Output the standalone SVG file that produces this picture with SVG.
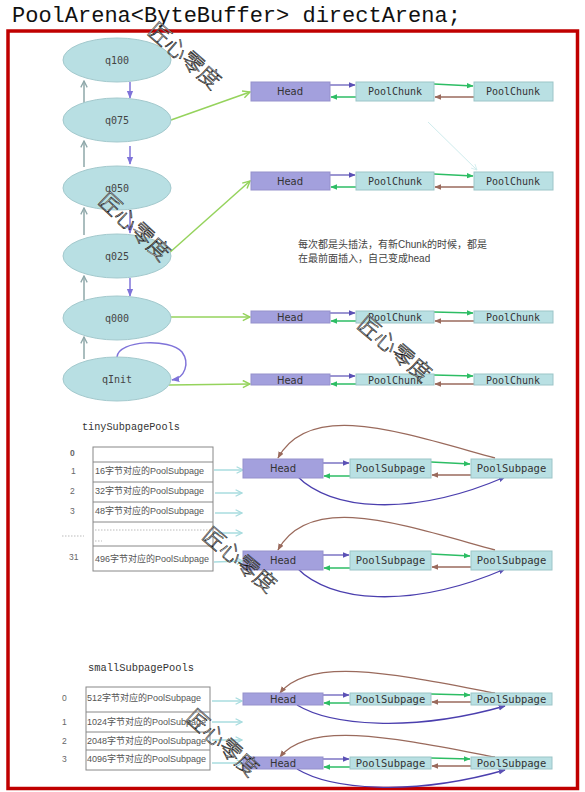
<svg xmlns="http://www.w3.org/2000/svg" width="585" height="792" viewBox="0 0 585 792">
<style>
.title{font-family:"Liberation Mono","DejaVu Sans Mono",monospace;font-size:22px;fill:#111}
.ell{fill:#b8dfe3;stroke:#a3c9cd;stroke-width:1}
.ql{font-family:"DejaVu Sans Mono","Liberation Mono",monospace;font-size:10px;fill:#444;text-anchor:middle}
.head{fill:#a3a0dd;stroke:#9591cc;stroke-width:1}
.chunk{fill:#b9e0e3;stroke:#9cc5c8;stroke-width:1}
.hl{font-family:"DejaVu Sans","Liberation Sans",sans-serif;font-size:10px;fill:#333;text-anchor:middle}
.cl{font-family:"DejaVu Sans Mono","Liberation Mono",monospace;font-size:10px;fill:#333;text-anchor:middle}
.sl{font-family:"DejaVu Sans Mono","Liberation Mono",monospace;font-size:10.5px;fill:#333;text-anchor:middle}
.lbl{font-family:"Liberation Mono","DejaVu Sans Mono",monospace;fill:#333}
.note{font-family:"Liberation Sans","Noto Sans CJK SC",sans-serif;font-size:10px;fill:#444}
.cell{font-family:"Liberation Sans","Noto Sans CJK SC",sans-serif;font-size:9px;fill:#555}
.idx{font-family:"Liberation Sans",sans-serif;font-size:8.5px;fill:#666}
.tbl{fill:#fff;stroke:#888;stroke-width:1}
.wm{font-family:"Noto Sans CJK SC",sans-serif;font-size:22px;font-weight:300;fill:#fff;stroke:#000;stroke-width:0.55;text-anchor:middle;dominant-baseline:central}
.up{stroke:#8ea7a9;stroke-width:1.5;fill:none;marker-end:url(#mGray)}
.dn{stroke:#7f73d9;stroke-width:1.5;fill:none;marker-end:url(#mPur)}
.gl{stroke:#95d35c;stroke-width:1.5;fill:none;marker-end:url(#mLg)}
.ind{stroke:#5b51b5;stroke-width:1.2;fill:none;marker-end:url(#mInd)}
.grn{stroke:#2dbd64;stroke-width:1.5;fill:none;marker-end:url(#mGrn)}
.brn{stroke:#9a6a5c;stroke-width:1.5;fill:none;marker-end:url(#mBrn)}
.cv{stroke:#4b3fae;stroke-width:1.3;fill:none;marker-end:url(#mInd)}
.cvb{stroke:#9a6a5c;stroke-width:1.3;fill:none;marker-end:url(#mBrn)}
.cy{stroke:#a8dcdf;stroke-width:1.5;fill:none;marker-end:url(#mCy)}
</style>
<defs>
<marker id="mGray" viewBox="0 0 10 10" refX="9" refY="5" markerWidth="8" markerHeight="8" markerUnits="userSpaceOnUse" orient="auto"><path d="M1,1 L9,5 L1,9" fill="none" stroke="#8ea7a9" stroke-width="1.6"/></marker>
<marker id="mPur" viewBox="0 0 10 10" refX="9" refY="5" markerWidth="8" markerHeight="8" markerUnits="userSpaceOnUse" orient="auto"><path d="M0,1 L10,5 L0,9 Z" fill="#7f73d9"/></marker>
<marker id="mLg" viewBox="0 0 10 10" refX="9" refY="5" markerWidth="9" markerHeight="9" markerUnits="userSpaceOnUse" orient="auto"><path d="M1,1 L9,5 L1,9" fill="none" stroke="#95d35c" stroke-width="1.6"/></marker>
<marker id="mInd" viewBox="0 0 10 10" refX="9" refY="5" markerWidth="7" markerHeight="7" markerUnits="userSpaceOnUse" orient="auto"><path d="M0,1 L10,5 L0,9 Z" fill="#5b51b5"/></marker>
<marker id="mGrn" viewBox="0 0 10 10" refX="9" refY="5" markerWidth="7" markerHeight="7" markerUnits="userSpaceOnUse" orient="auto"><path d="M0,1 L10,5 L0,9 Z" fill="#2dbd64"/></marker>
<marker id="mBrn" viewBox="0 0 10 10" refX="9" refY="5" markerWidth="7" markerHeight="7" markerUnits="userSpaceOnUse" orient="auto"><path d="M0,1 L10,5 L0,9 Z" fill="#9a6a5c"/></marker>
<marker id="mCy" viewBox="0 0 10 10" refX="9" refY="5" markerWidth="8" markerHeight="8" markerUnits="userSpaceOnUse" orient="auto"><path d="M1,1 L9,5 L1,9" fill="none" stroke="#a8dcdf" stroke-width="1.6"/></marker>
<marker id="mFaint" viewBox="0 0 10 10" refX="9" refY="5" markerWidth="7" markerHeight="7" markerUnits="userSpaceOnUse" orient="auto"><path d="M1,1 L9,5 L1,9" fill="none" stroke="#cfeced" stroke-width="1.2"/></marker>
</defs>
<rect width="585" height="792" fill="#fff"/>
<text class="title" x="12" y="22">PoolArena&lt;ByteBuffer&gt; directArena;</text>
<rect x="8" y="31" width="569.5" height="757.5" fill="none" stroke="#c00000" stroke-width="3.5"/>

<g id="connectors">
<line class="up" x1="84" y1="103" x2="84" y2="81"/>
<line class="up" x1="84" y1="167" x2="84" y2="141"/>
<line class="up" x1="84" y1="235" x2="84" y2="208"/>
<line class="up" x1="84" y1="300" x2="84" y2="276"/>
<line class="up" x1="84" y1="359" x2="84" y2="337"/>
<line class="dn" x1="130" y1="82" x2="130" y2="98"/>
<line class="dn" x1="130" y1="146" x2="130" y2="164"/>
<line class="dn" x1="130" y1="210" x2="130" y2="233"/>
<line class="dn" x1="130" y1="278" x2="130" y2="296"/>
<path class="dn" d="M117,357 C118,340 170,338 182,352 C190,363 185,378 172,380"/>
<line class="gl" x1="171" y1="120" x2="250" y2="92"/>
<line class="gl" x1="168" y1="254" x2="250" y2="181"/>
<line class="gl" x1="170" y1="317" x2="250" y2="317"/>
<line class="gl" x1="169" y1="385" x2="250" y2="384"/>
<line x1="428" y1="122" x2="477" y2="170" stroke="#cfeced" stroke-width="1" marker-end="url(#mFaint)"/>
<line class="ind" x1="330" y1="85" x2="355" y2="85"/>
<line class="grn" x1="356" y1="97" x2="331" y2="97"/>
<line class="grn" x1="434" y1="84" x2="473" y2="86"/>
<line class="brn" x1="474" y1="97" x2="435" y2="97"/>
<line class="ind" x1="330" y1="175" x2="355" y2="175"/>
<line class="grn" x1="356" y1="187" x2="331" y2="187"/>
<line class="grn" x1="434" y1="174" x2="473" y2="176"/>
<line class="brn" x1="474" y1="187" x2="435" y2="187"/>
<line class="ind" x1="330" y1="313" x2="355" y2="313"/>
<line class="grn" x1="356" y1="321" x2="331" y2="321"/>
<line class="grn" x1="434" y1="312" x2="473" y2="313"/>
<line class="brn" x1="474" y1="321" x2="435" y2="321"/>
<line class="ind" x1="330" y1="376" x2="355" y2="376"/>
<line class="grn" x1="356" y1="384" x2="331" y2="384"/>
<line class="grn" x1="434" y1="375" x2="473" y2="376"/>
<line class="brn" x1="474" y1="384" x2="435" y2="384"/>
<line class="cy" x1="214" y1="470" x2="243" y2="470"/>
<line class="cy" x1="215" y1="493" x2="242" y2="493"/>
<line class="cy" x1="215" y1="513" x2="242" y2="513"/>
<line class="cy" x1="215" y1="533" x2="242" y2="533"/>
<line class="cy" x1="214" y1="562" x2="243" y2="561"/>
<line class="ind" x1="323" y1="463" x2="349" y2="463"/>
<line class="grn" x1="350" y1="476" x2="324" y2="476"/>
<line class="grn" x1="431" y1="462" x2="470" y2="464"/>
<line class="brn" x1="471" y1="475" x2="432" y2="475"/>
<path class="cvb" d="M495,458 C400,432 310,400 278,458"/>
<path class="cv" d="M297,476 C330,510 410,518 505,477"/>
<line class="ind" x1="323" y1="555" x2="349" y2="555"/>
<line class="grn" x1="350" y1="568" x2="324" y2="568"/>
<line class="grn" x1="431" y1="554" x2="470" y2="556"/>
<line class="brn" x1="471" y1="567" x2="432" y2="567"/>
<path class="cvb" d="M495,550 C400,524 310,492 278,550"/>
<path class="cv" d="M297,568 C330,602 410,610 505,569"/>
<line class="cy" x1="212" y1="701" x2="242" y2="701"/>
<line class="cy" x1="212" y1="722" x2="242" y2="722"/>
<line class="cy" x1="212" y1="740" x2="242" y2="740"/>
<line class="cy" x1="212" y1="763" x2="243" y2="763"/>
<line class="ind" x1="323" y1="695" x2="349" y2="695"/>
<line class="grn" x1="350" y1="703" x2="324" y2="703"/>
<line class="grn" x1="431" y1="694" x2="470" y2="695"/>
<line class="brn" x1="471" y1="702" x2="432" y2="702"/>
<path class="cvb" d="M495,693 C400,675 310,655 280,693"/>
<path class="cv" d="M297,705 C330,725 410,733 505,706"/>
<line class="ind" x1="323" y1="759" x2="349" y2="759"/>
<line class="grn" x1="350" y1="767" x2="324" y2="767"/>
<line class="grn" x1="431" y1="758" x2="470" y2="759"/>
<line class="brn" x1="471" y1="766" x2="432" y2="766"/>
<path class="cvb" d="M495,757 C400,739 310,719 280,757"/>
<path class="cv" d="M297,769 C330,789 410,797 505,770"/>
</g>

<g id="q100"><ellipse class="ell" cx="117" cy="60" rx="54" ry="22"/><text class="ql" x="117" y="64">q100</text></g>
<g id="q075"><ellipse class="ell" cx="117" cy="120" rx="54" ry="22"/><text class="ql" x="117" y="124">q075</text></g>
<g id="q050"><ellipse class="ell" cx="117" cy="188" rx="54" ry="22"/><text class="ql" x="117" y="192">q050</text></g>
<g id="q025"><ellipse class="ell" cx="117" cy="256" rx="54" ry="22"/><text class="ql" x="117" y="260">q025</text></g>
<g id="q000"><ellipse class="ell" cx="117" cy="318" rx="54" ry="22"/><text class="ql" x="117" y="322">q000</text></g>
<g id="qInit"><ellipse class="ell" cx="117" cy="379" rx="54" ry="22"/><text class="ql" x="117" y="383">qInit</text></g>

<g id="chunkRowA">
<rect class="head" x="251" y="82" width="79" height="19"/><text class="hl" x="290" y="95">Head</text>
<rect class="chunk" x="356" y="82" width="78" height="19"/><text class="cl" x="395" y="95">PoolChunk</text>
<rect class="chunk" x="474" y="82" width="79" height="19"/><text class="cl" x="513" y="95">PoolChunk</text>
</g>
<g id="chunkRowB">
<rect class="head" x="251" y="172" width="79" height="18"/><text class="hl" x="290" y="185">Head</text>
<rect class="chunk" x="356" y="172" width="78" height="18"/><text class="cl" x="395" y="185">PoolChunk</text>
<rect class="chunk" x="474" y="172" width="79" height="18"/><text class="cl" x="513" y="185">PoolChunk</text>
</g>
<g id="chunkRowC">
<rect class="head" x="251" y="311" width="79" height="12"/><text class="hl" x="290" y="321">Head</text>
<rect class="chunk" x="356" y="311" width="78" height="12"/><text class="cl" x="395" y="321">PoolChunk</text>
<rect class="chunk" x="474" y="311" width="79" height="12"/><text class="cl" x="513" y="321">PoolChunk</text>
</g>
<g id="chunkRowD">
<rect class="head" x="251" y="374" width="79" height="11"/><text class="hl" x="290" y="383.5">Head</text>
<rect class="chunk" x="356" y="374" width="78" height="11"/><text class="cl" x="395" y="383.5">PoolChunk</text>
<rect class="chunk" x="474" y="374" width="79" height="11"/><text class="cl" x="513" y="383.5">PoolChunk</text>
</g>

<g id="note">
<text class="note" x="298" y="248">每次都是头插法，有新Chunk的时候，都是</text>
<text class="note" x="298" y="262">在最前面插入，自己变成head</text>
</g>

<g id="tinyTable">
<text class="lbl" x="82" y="430" font-size="10.2">tinySubpagePools</text>
<rect class="tbl" x="93" y="447" width="120" height="124"/>
<line x1="93" y1="462" x2="213" y2="462" stroke="#888"/>
<line x1="93" y1="482" x2="213" y2="482" stroke="#888"/>
<line x1="93" y1="502" x2="213" y2="502" stroke="#888"/>
<line x1="93" y1="522" x2="213" y2="522" stroke="#888"/>
<line x1="93" y1="546" x2="213" y2="546" stroke="#888"/>
<line x1="95" y1="530" x2="210" y2="530" stroke="#aaa" stroke-width="0.8" stroke-dasharray="1.5,1.5"/>
<line x1="95" y1="541" x2="102" y2="541" stroke="#aaa" stroke-width="0.8" stroke-dasharray="1.5,1.5"/>
<text class="idx" x="70" y="456" font-weight="bold" fill="#444">0</text>
<text class="idx" x="71" y="474">1</text>
<text class="idx" x="70" y="494">2</text>
<text class="idx" x="70" y="514">3</text>
<line x1="62" y1="536" x2="84" y2="536" stroke="#aaa" stroke-width="0.8" stroke-dasharray="1.5,1.5"/>
<text class="idx" x="69" y="560">31</text>
<text class="cell" x="95" y="474">16字节对应的PoolSubpage</text>
<text class="cell" x="95" y="494">32字节对应的PoolSubpage</text>
<text class="cell" x="95" y="514">48字节对应的PoolSubpage</text>
<text class="cell" x="95" y="562">496字节对应的PoolSubpage</text>
</g>

<g id="tinyRow1">
<rect class="head" x="243" y="459" width="80" height="19"/><text class="hl" x="283" y="472">Head</text>
<rect class="chunk" x="350" y="459" width="81" height="19"/><text class="sl" x="390.5" y="472">PoolSubpage</text>
<rect class="chunk" x="471" y="459" width="81" height="19"/><text class="sl" x="511.5" y="472">PoolSubpage</text>
</g>
<g id="tinyRow2">
<rect class="head" x="243" y="551" width="80" height="19"/><text class="hl" x="283" y="564">Head</text>
<rect class="chunk" x="350" y="551" width="81" height="19"/><text class="sl" x="390.5" y="564">PoolSubpage</text>
<rect class="chunk" x="471" y="551" width="81" height="19"/><text class="sl" x="511.5" y="564">PoolSubpage</text>
</g>

<g id="smallTable">
<text class="lbl" x="88" y="671" font-size="10.4">smallSubpagePools</text>
<rect class="tbl" x="86" y="687" width="124" height="83"/>
<line x1="86" y1="712" x2="210" y2="712" stroke="#888"/>
<line x1="86" y1="732" x2="210" y2="732" stroke="#888"/>
<line x1="86" y1="750" x2="210" y2="750" stroke="#888"/>
<text class="idx" x="62" y="701">0</text>
<text class="idx" x="62" y="725">1</text>
<text class="idx" x="62" y="744">2</text>
<text class="idx" x="62" y="762">3</text>
<text class="cell" x="87" y="701">512字节对应的PoolSubpage</text>
<text class="cell" x="87" y="725">1024字节对应的PoolSubpage</text>
<text class="cell" x="87" y="744">2048字节对应的PoolSubpage</text>
<text class="cell" x="87" y="762">4096字节对应的PoolSubpage</text>
</g>

<g id="smallRow1">
<rect class="head" x="243" y="693" width="80" height="12"/><text class="hl" x="283" y="703">Head</text>
<rect class="chunk" x="350" y="693" width="81" height="12"/><text class="sl" x="390.5" y="703">PoolSubpage</text>
<rect class="chunk" x="471" y="693" width="81" height="12"/><text class="sl" x="511.5" y="703">PoolSubpage</text>
</g>
<g id="smallRow2">
<rect class="head" x="243" y="757" width="80" height="12"/><text class="hl" x="283" y="767">Head</text>
<rect class="chunk" x="350" y="757" width="81" height="12"/><text class="sl" x="390.5" y="767">PoolSubpage</text>
<rect class="chunk" x="471" y="757" width="81" height="12"/><text class="sl" x="511.5" y="767">PoolSubpage</text>
</g>

<g id="watermarks">
<text class="wm" transform="translate(186,54) rotate(41)">匠心零度</text>
<text class="wm" transform="translate(136,225) rotate(43)">匠心零度</text>
<text class="wm" transform="translate(396,347) rotate(40)">匠心零度</text>
<text class="wm" transform="translate(241,558) rotate(40)">匠心零度</text>
<text class="wm" transform="translate(224,741) rotate(42)">匠心零度</text>
</g>
</svg>
